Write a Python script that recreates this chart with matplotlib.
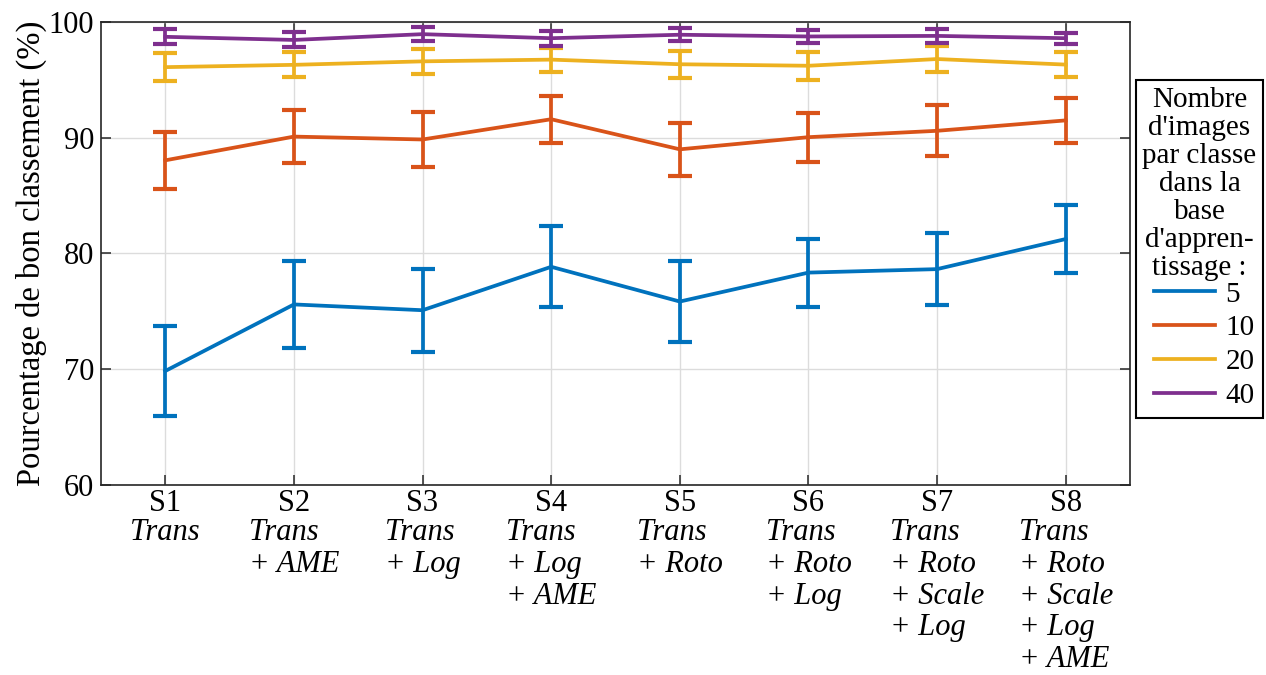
import matplotlib
matplotlib.use("Agg")
import matplotlib.pyplot as plt
from matplotlib.patches import Rectangle
from matplotlib.transforms import blended_transform_factory

plt.rcParams['font.family'] = ['Liberation Serif', 'DejaVu Serif']

# données
strategies = ["S1", "S2", "S3", "S4", "S5", "S6", "S7", "S8"]
details = ["Trans",
           "Trans\n+ AME",
           "Trans\n+ Log",
           "Trans\n+ Log\n+ AME",
           "Trans\n+ Roto",
           "Trans\n+ Roto\n+ Log",
           "Trans\n+ Roto\n+ Scale\n+ Log",
           "Trans\n+ Roto\n+ Scale\n+ Log\n+ AME"]

n_images = ["5", "10", "20", "40"]
titre_legende = "Nombre\nd'images\npar classe\ndans la\nbase\nd'appren-\ntissage :"
moy_5 = [69.85, 75.6, 75.1, 78.85, 75.85, 78.35, 78.65, 81.25]
err_5 = [3.92, 3.77, 3.57, 3.50, 3.53, 2.93, 3.10, 2.95]
moy_10 = [88.05, 90.1, 89.85, 91.6, 89.0, 90.05, 90.6, 91.5]
err_10 = [2.46, 2.27, 2.34, 2.02, 2.28, 2.12, 2.20, 1.96]
moy_20 = [96.1, 96.3, 96.6, 96.75, 96.35, 96.22, 96.8, 96.32]
err_20 = [1.18, 1.07, 1.07, 1.04, 1.16, 1.22, 1.11, 1.07]
moy_40 = [98.72, 98.45, 98.95, 98.6, 98.9, 98.75, 98.8, 98.6]
err_40 = [0.65, 0.65, 0.59, 0.65, 0.55, 0.58, 0.60, 0.46]

couleurs = ["#0072BD", "#D95319", "#EDB120", "#7E2F8E"]

x = list(range(1, len(strategies) + 1))

W, H = 1266, 675
fig = plt.figure(figsize=(W / 100, H / 100), dpi=100)
ax = fig.add_axes([101 / W, 1 - 485 / H, (1130 - 101) / W, (485 - 22) / H])

handles = []
for moy, err, c in zip([moy_5, moy_10, moy_20, moy_40],
                       [err_5, err_10, err_20, err_40], couleurs):
    cont = ax.errorbar(x, moy, yerr=err, color=c, lw=2.7, elinewidth=2.7,
                       capsize=8.5, capthick=3.0, zorder=3)
    handles.append(cont.lines[0])

ax.set_xlim(0.5, 8.5)
ax.set_ylim(60, 100)
ax.set_yticks([60, 70, 80, 90, 100])
ax.set_xticks(x)
ax.set_xticklabels(strategies)
ax.grid(True, color="#dcdcdc", lw=1.0, zorder=0)
ax.set_axisbelow(True)

for s in ax.spines.values():
    s.set_color("#262626")
    s.set_linewidth(1.2)
ax.tick_params(direction="in", length=7, width=1.1, colors="#262626",
               top=True, right=True, labelsize=22, labelcolor="black")
ax.tick_params(axis="x", pad=3)
ax.tick_params(axis="y", pad=5)
ax.set_ylabel("Pourcentage de bon classement (%)", fontsize=23.5, labelpad=1)

# détail des transformations sous chaque stratégie
trans = blended_transform_factory(ax.transData, ax.transAxes)
for xi, txt in zip(x, details):
    ax.text(xi, -0.072, txt, transform=trans, ha="center", va="top",
            multialignment="left", style="italic", fontsize=22, linespacing=1.12)

# légende : cadre + titre + entrées
fig.patches.append(Rectangle((1136 / W, 1 - 418 / H), (1263 - 1136) / W, (418 - 80) / H,
                             transform=fig.transFigure, fill=False,
                             edgecolor="black", lw=1.5))
fig.text(1199.5 / W, 1 - 184 / H, titre_legende, ha="center", va="center",
         multialignment="center", fontsize=21, linespacing=1.1)
leg = fig.legend(handles, n_images, loc="center left",
                 bbox_to_anchor=(1154 / W, 1 - 345 / H),
                 fontsize=21, frameon=False, handlelength=2.1,
                 handletextpad=0.35, labelspacing=0.25, borderpad=0,
                 borderaxespad=0)

fig.savefig("out.png", dpi=100, facecolor="white")
